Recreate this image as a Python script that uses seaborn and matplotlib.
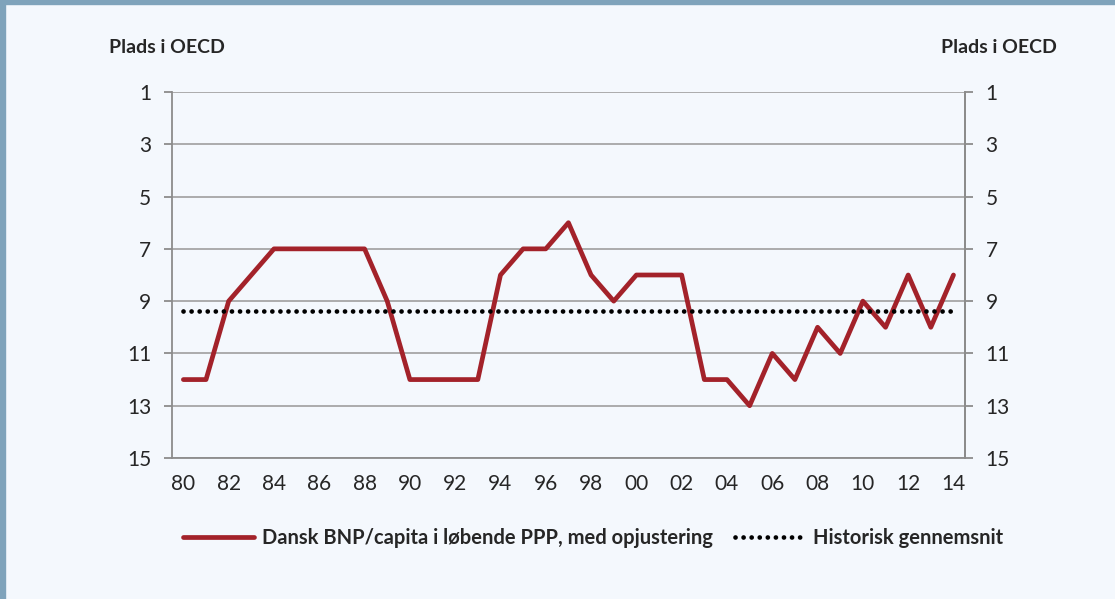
import numpy as np
import pandas as pd
import matplotlib
matplotlib.use("Agg")
import matplotlib.pyplot as plt
import seaborn as sns
from matplotlib.patches import Rectangle

# ---- data ----
years = list(range(1980, 2015))
rank = [12, 12, 9, 8, 7, 7, 7, 7, 7, 9, 12, 12, 12, 12, 8, 7, 7, 6, 8, 9,
        8, 8, 8, 12, 12, 13, 11, 12, 10, 11, 9, 10, 8, 10, 8]
hist_avg = 9.37
yticks = [1, 3, 5, 7, 9, 11, 13, 15]
xtick_years = list(range(1980, 2015, 2))
xtick_labels = [f"{y % 100:02d}" for y in xtick_years]
label_line = "Dansk BNP/capita i løbende PPP, med opjustering"
label_avg = "Historisk gennemsnit"

df = pd.DataFrame({"år": years, "plads": rank, "snit": [hist_avg] * len(years)})

sns.set_style("white")
plt.rcParams["font.family"] = ["Lato", "DejaVu Sans"]

bg = "#f4f8fd"
fig = plt.figure(figsize=(11.15, 5.99), dpi=100, facecolor=bg)
# ramme (venstre + top)
fig.add_artist(Rectangle((0, 0), 0.0045, 1, transform=fig.transFigure,
                         color="#7fa3bb", zorder=5))
fig.add_artist(Rectangle((0, 0.993), 1, 0.007, transform=fig.transFigure,
                         color="#7fa3bb", zorder=5))

ax = fig.add_axes([0.1543, 0.2354, 0.711, 0.611])
ax.set_facecolor(bg)

sns.lineplot(data=df, x="år", y="plads", ax=ax, color="#a3222a", linewidth=3.4,
             label=label_line, solid_capstyle="round")
sns.lineplot(data=df, x="år", y="snit", ax=ax, color="black", linewidth=3.4,
             linestyle=(0, (0.01, 1.7)), dash_capstyle="round", label=label_avg)

ax.set_xlim(1979.5, 2014.5)
ax.set_ylim(15, 1)
ax.set_yticks(yticks)
ax.set_xticks(xtick_years)
ax.set_xticklabels(xtick_labels)
ax.grid(axis="y", color="#a6a6a6", linewidth=1.3)
ax.set_axisbelow(True)
ax.spines["top"].set_visible(False)
for s in ["left", "right", "bottom"]:
    ax.spines[s].set_color("#8c8c8c")
    ax.spines[s].set_linewidth(1.3)
ax.tick_params(axis="y", which="both", left=True, length=6, width=1.3,
               color="#8c8c8c", labelsize=15, pad=9)
ax.tick_params(axis="x", bottom=False, labelsize=15, pad=8)
ax.set_xlabel("")
ax.set_ylabel("")

ax2 = ax.twinx()
ax2.set_ylim(15, 1)
ax2.set_yticks(yticks)
for s in ["top", "left", "bottom"]:
    ax2.spines[s].set_visible(False)
ax2.spines["right"].set_color("#8c8c8c")
ax2.spines["right"].set_linewidth(1.3)
ax2.tick_params(axis="y", right=True, length=6, width=1.3, color="#8c8c8c",
                labelsize=15, pad=9)

fig.text(0.150, 0.921, "Plads i OECD", ha="center", va="center",
         fontsize=14, fontweight="bold")
fig.text(0.896, 0.921, "Plads i OECD", ha="center", va="center",
         fontsize=14, fontweight="bold")

leg = ax.legend(loc="center", bbox_to_anchor=(0.532, 0.102), bbox_transform=fig.transFigure,
                ncol=2, frameon=False, handlelength=3.5, columnspacing=1.1,
                handletextpad=0.4, prop={"weight": "bold", "size": 14.5})

fig.savefig("out.png", dpi=100, facecolor=bg)
